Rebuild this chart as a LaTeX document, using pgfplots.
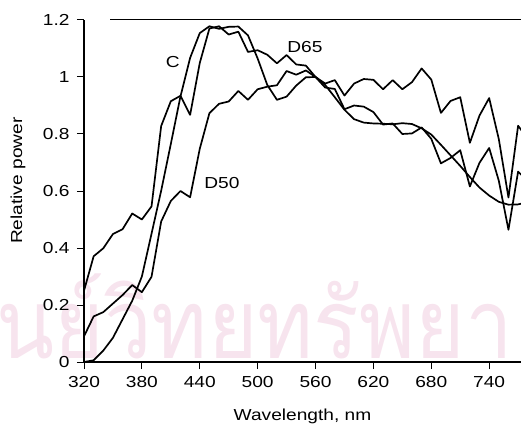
\documentclass[border=0pt]{standalone}
\usepackage{fontspec}
\setmainfont{Liberation Sans}[FakeStretch=1.2]
\newfontfamily\thaifont[Script=Thai]{Loma}
\usepackage{pgfplots}
\usepackage{pgfplotstable}
\pgfplotsset{compat=1.18}
\definecolor{wmark}{RGB}{247,228,238}

% relative spectral power, 10 nm steps
\pgfplotstableread{
nm   p
320  0.250
330  0.371
340  0.399
350  0.449
360  0.466
370  0.521
380  0.500
390  0.546
400  0.828
410  0.915
420  0.934
430  0.867
440  1.049
450  1.170
460  1.178
470  1.149
480  1.159
490  1.088
500  1.094
510  1.078
520  1.048
530  1.077
540  1.044
550  1.040
560  1.000
570  0.963
580  0.958
590  0.887
600  0.900
610  0.896
620  0.877
630  0.833
640  0.837
650  0.800
660  0.802
670  0.823
680  0.783
690  0.697
700  0.716
710  0.743
720  0.616
730  0.699
740  0.751
750  0.636
760  0.464
770  0.668
780  0.634
}\dsixfive

\pgfplotstableread{
nm   p
320  0.000
330  0.006
340  0.040
350  0.085
360  0.150
370  0.215
380  0.300
390  0.450
400  0.601
410  0.765
420  0.932
430  1.067
440  1.154
450  1.178
460  1.169
470  1.176
480  1.177
490  1.146
500  1.065
510  0.972
520  0.920
530  0.931
540  0.970
550  0.999
560  1.000
570  0.972
580  0.929
590  0.885
600  0.852
610  0.840
620  0.837
630  0.836
640  0.834
650  0.838
660  0.835
670  0.820
680  0.798
690  0.762
700  0.725
710  0.688
720  0.649
730  0.612
740  0.584
750  0.562
760  0.552
770  0.553
780  0.561
}\illc

\pgfplotstableread{
nm   p
320  0.090
330  0.160
340  0.175
350  0.205
360  0.235
370  0.270
380  0.245
390  0.299
400  0.493
410  0.565
420  0.600
430  0.578
440  0.748
450  0.873
460  0.906
470  0.914
480  0.951
490  0.920
500  0.957
510  0.966
520  0.971
530  1.021
540  1.008
550  1.023
560  1.000
570  0.977
580  0.989
590  0.935
600  0.977
610  0.993
620  0.990
630  0.957
640  0.989
650  0.957
660  0.982
670  1.030
680  0.991
690  0.874
700  0.916
710  0.929
720  0.769
730  0.865
740  0.926
750  0.782
760  0.577
770  0.829
780  0.783
}\dfifty

\begin{document}
\begin{tikzpicture}
% faint watermark behind the plot
\node[anchor=base west, text=wmark, inner sep=0pt, xscale=0.88]
  at (-88bp,4bp) {\thaifont\fontsize{97}{97}\selectfont นย์วิทยทรัพยา};

\begin{axis}[
  scale only axis, width=437bp, height=342bp,
  xmin=320, xmax=773, ymin=0, ymax=1.2,
  axis x line=bottom, axis y line=left,
  axis line style={-, line width=1.2pt},
  xtick={320,380,440,500,560,620,680,740},
  ytick={0,0.2,0.4,0.6,0.8,1,1.2},
  tick align=outside, major tick length=7bp,
  tick style={line width=1pt, black},
  /pgf/number format/assume math mode=true,
  ticklabel style={font=\fontsize{16}{18}\selectfont},
  xticklabel style={yshift=-4bp},
  yticklabel style={xshift=-4bp},
  label style={font=\fontsize{16}{18}\selectfont},
  xlabel={Wavelength, nm}, ylabel={Relative power},
  xlabel style={at={(axis description cs:0.5,0)}, anchor=center, yshift=-54bp},
  ylabel style={at={(axis description cs:-0.151,0.53)}, anchor=center},
  every axis plot post/.append style={black, line width=1.7pt, line join=round, mark=none},
]
\addplot table[x=nm, y=p] {\dsixfive};
\addplot table[x=nm, y=p] {\illc};
\addplot table[x=nm, y=p] {\dfifty};
\draw[line width=1pt] (axis cs:347,1.2) -- (axis cs:773,1.2);
\node[font=\fontsize{16}{18}\selectfont] at (axis cs:412,1.053) {C};
\node[font=\fontsize{16}{18}\selectfont] at (axis cs:549,1.105) {D65};
\node[font=\fontsize{16}{18}\selectfont] at (axis cs:463,0.628) {D50};
\end{axis}
\pgfresetboundingbox
\path[use as bounding box] ([shift={(-84bp,-66bp)}]current axis.south west)
  rectangle ([shift={(0bp,20bp)}]current axis.north east);
\end{tikzpicture}
\end{document}
